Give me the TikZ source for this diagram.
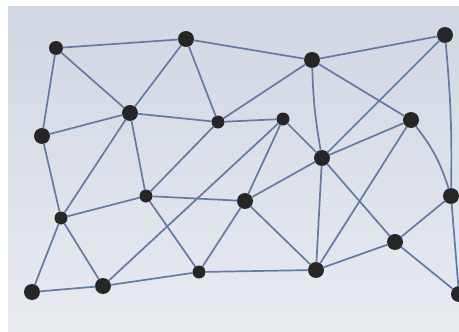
\documentclass[tikz,border=0pt]{standalone}
\begin{document}
\begin{tikzpicture}[x=1pt,y=-1pt,
  dot/.style={circle,fill=black!85,draw=none,inner sep=0pt,minimum size=14pt},
  big/.style={minimum size=16pt},
  sml/.style={minimum size=13pt},
  wire/.style={draw=wireblue,line width=1.7pt,line cap=round}]
\definecolor{wireblue}{RGB}{100,122,162}
\definecolor{papertop}{RGB}{208,215,226}
\definecolor{paperbot}{RGB}{232,235,240}
\useasboundingbox (0,0) rectangle (459,332);
\fill[white] (0,0) rectangle (459,332);
\shade[top color=papertop,bottom color=paperbot] (8,6) rectangle (459,332);
% nodes
\node[dot] (A) at (56,48) {};
\node[dot,big] (B) at (186,39) {};
\node[dot,big] (C) at (312,60) {};
\node[dot,big] (D) at (445,35) {};
\node[dot,big] (E) at (42,136) {};
\node[dot,big] (F) at (130,113) {};
\node[dot,sml] (G) at (218,122) {};
\node[dot,sml] (H) at (283,119) {};
\node[dot,big] (I) at (411,120) {};
\node[dot,big] (J) at (322,158) {};
\node[dot,sml] (K) at (146,196) {};
\node[dot,sml] (L) at (61,218) {};
\node[dot,big] (M) at (245,201) {};
\node[dot,big] (N) at (451,196) {};
\node[dot,big] (O) at (395,242) {};
\node[dot,big] (P) at (32,292) {};
\node[dot,big] (Q) at (103,286) {};
\node[dot,sml] (R) at (199,272) {};
\node[dot,big] (S) at (316,270) {};
\node[dot,big] (T) at (459,294) {};
% edges
\path[wire] (A) -- (B) (A) -- (E) (A) -- (F)
  (B) -- (F) (B) -- (G) (B) -- (C)
  (C) -- (D) (C) -- (G) (C) to[bend right=4] (J) (C) -- (I)
  (D) -- (J) (D) to[bend left=3] (N)
  (E) -- (F) (E) -- (L)
  (F) -- (G) (F) -- (L) (F) -- (K)
  (G) -- (H) (G) -- (K)
  (H) -- (J) (H) -- (M) (H) -- (Q)
  (I) -- (J) (I) to[bend left=10] (N) (I) -- (S)
  (J) -- (M) (J) -- (O) (J) -- (S)
  (K) -- (L) (K) -- (M) (K) -- (R)
  (L) -- (P) (L) -- (Q)
  (M) -- (R) (M) -- (S)
  (N) -- (O) (N) -- (T)
  (O) -- (S) (O) -- (T)
  (P) -- (Q) (Q) -- (R) (R) -- (S);
\end{tikzpicture}
\end{document}
